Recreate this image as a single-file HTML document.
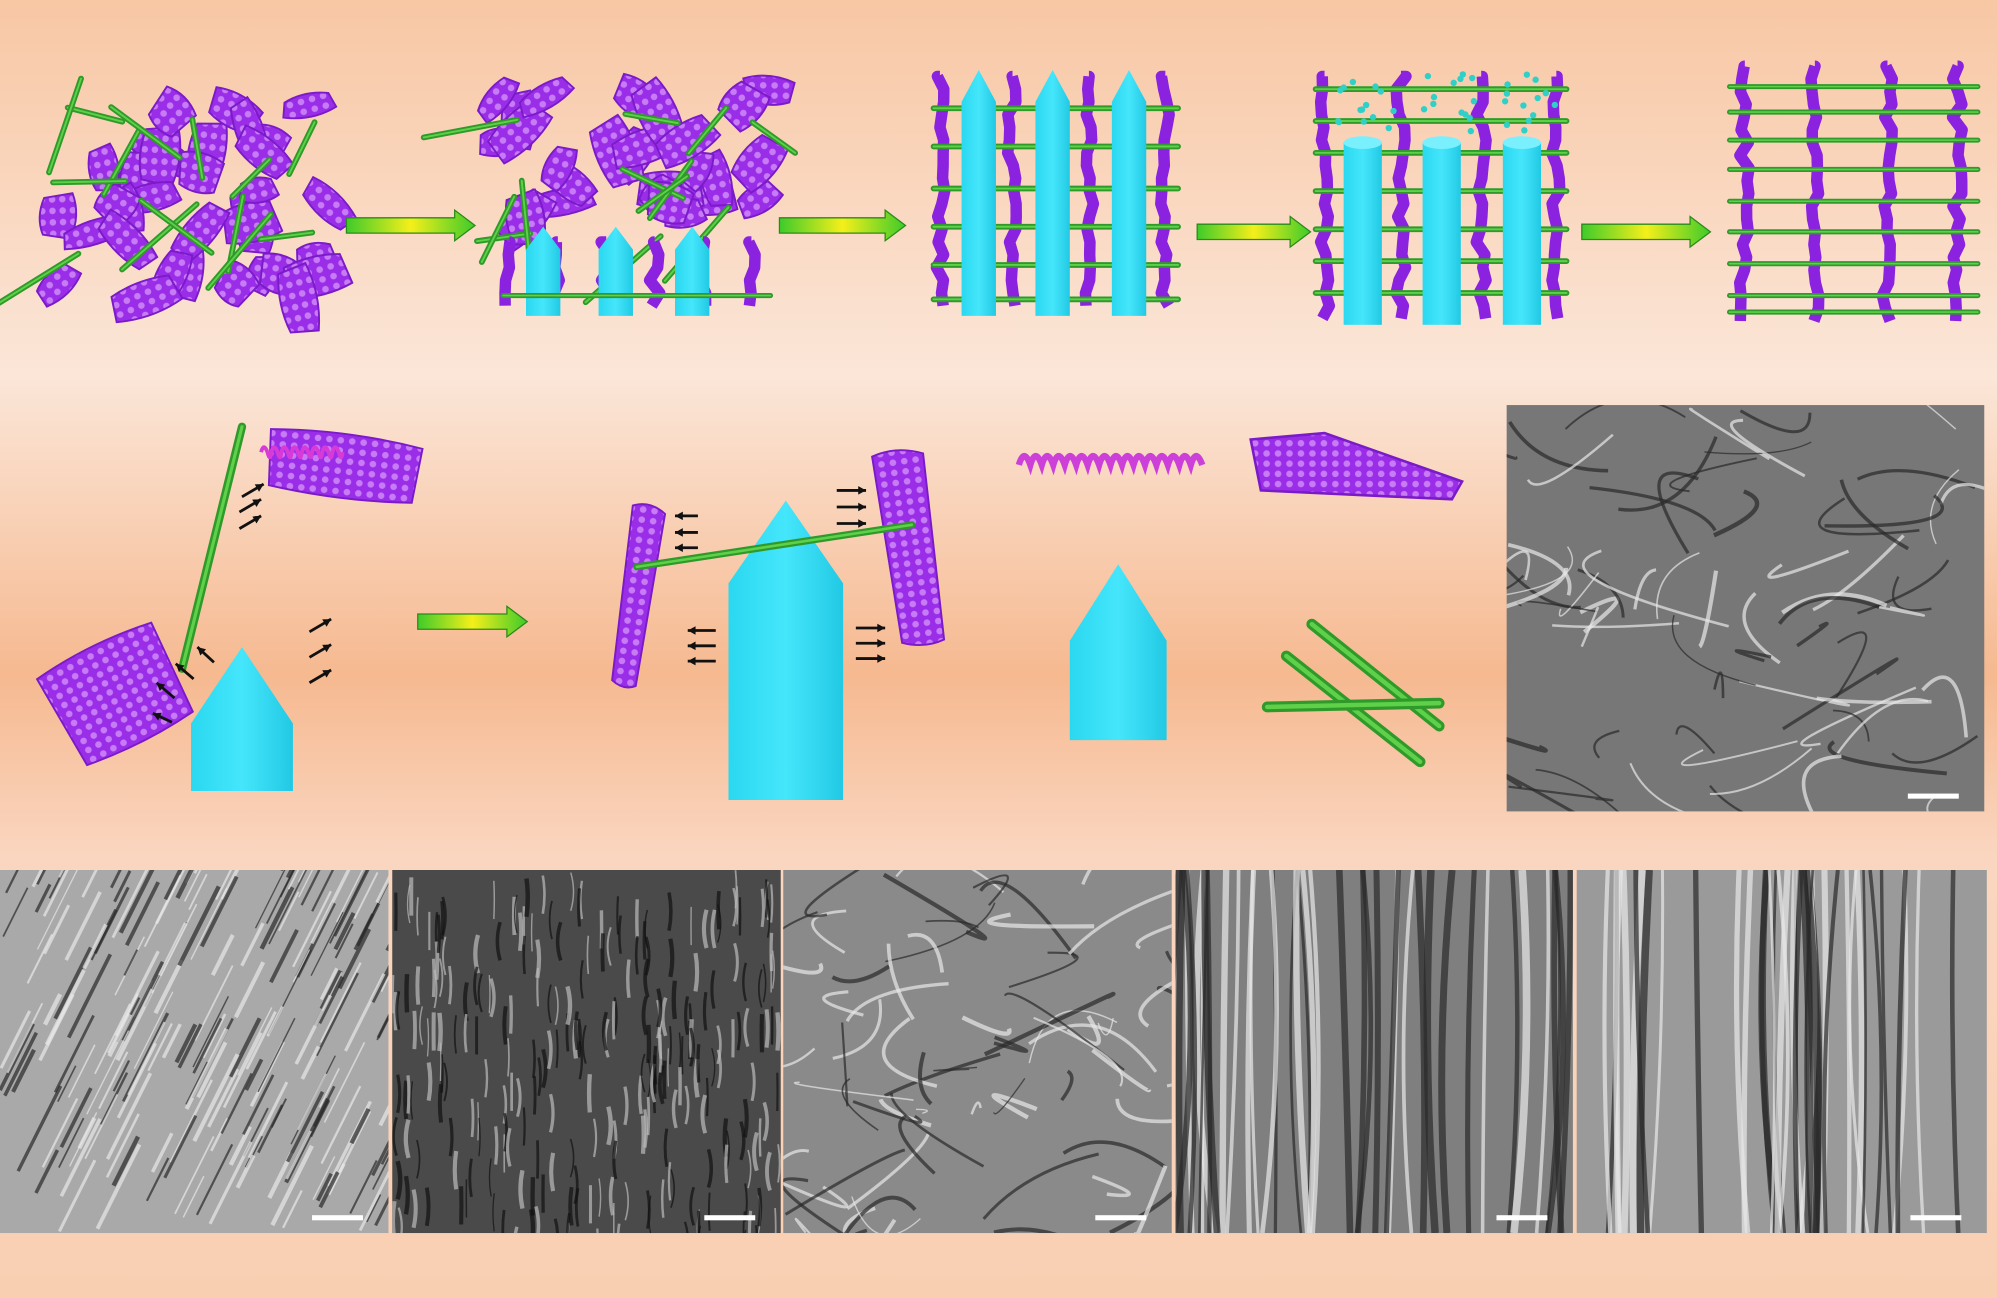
<!DOCTYPE html>
<html><head><meta charset="utf-8"><title>Schematic</title>
<style>
html,body{margin:0;padding:0;width:1997px;height:1298px;overflow:hidden;font-family:"Liberation Sans",sans-serif;}
svg{display:block}
</style></head>
<body>
<svg id="fig" width="1997" height="1298" viewBox="0 0 1568 1019" preserveAspectRatio="none" xmlns="http://www.w3.org/2000/svg">
<defs>
<linearGradient id="bg" x1="0" y1="0" x2="0" y2="1">
<stop offset="0" stop-color="#f8c7a4"/>
<stop offset="0.29" stop-color="#fbe6d8"/>
<stop offset="0.52" stop-color="#f6b990"/>
<stop offset="0.66" stop-color="#fad6c0"/>
<stop offset="1" stop-color="#f9cfb2"/>
</linearGradient>
<linearGradient id="arr" x1="0" y1="0" x2="1" y2="0">
<stop offset="0" stop-color="#3ecb2a"/><stop offset="0.5" stop-color="#f5ef1a"/><stop offset="1" stop-color="#3ecb2a"/>
</linearGradient>
<linearGradient id="cyl" x1="0" y1="0" x2="1" y2="0">
<stop offset="0" stop-color="#2ad8f0"/><stop offset="0.5" stop-color="#45e6fb"/><stop offset="1" stop-color="#22c9e4"/>
</linearGradient>
<pattern id="hex" width="9" height="8" patternUnits="userSpaceOnUse">
<rect width="9" height="8" fill="#9a2ee8"/>
<circle cx="4.5" cy="4" r="2.6" fill="#c77cf5"/>
</pattern>
</defs>
<rect width="1568" height="1019" fill="url(#bg)"/>
<g id="topRow"></g>
<g id="midRow"></g>
<g id="semRow"></g>
</svg>
<script>
const NS="http://www.w3.org/2000/svg";
let seed=7;function rnd(){seed=(seed*16807)%2147483647;return (seed-1)/2147483646;}
function el(parent,tag,attrs,name){const e=document.createElementNS(NS,tag);for(const k in attrs)e.setAttribute(k,attrs[k]);


parent.appendChild(e);return e;}
const gTop=document.getElementById('topRow'),gMid=document.getElementById('midRow'),gSem=document.getElementById('semRow');

function arrow(g,x1,x2,y,name){
  el(g,'path',{d:`M${x1} ${y-6}H${x2-16}V${y-12}L${x2} ${y}L${x2-16} ${y+12}V${y+6}H${x1}Z`,fill:'url(#arr)',stroke:'#2a8a1a','stroke-width':1},name);
}
function rod(g,x1,y1,x2,y2,w,name){
  el(g,'line',{x1,y1,x2,y2,stroke:'#2f9a2a','stroke-width':w+1.5,'stroke-linecap':'round'},name);
  el(g,'line',{x1,y1,x2,y2,stroke:'#5fd04a','stroke-width':w*0.5,'stroke-linecap':'round'},name+'-hl');
}
function sheet(g,cx,cy,w,h,a,name){
  el(g,'path',{d:`M${-w/2} ${-h/2} Q0 ${-h/2-6} ${w/2} ${-h/2+3} L${w/2-4} ${h/2} Q0 ${h/2+5} ${-w/2+3} ${h/2-2}Z`,fill:'url(#hex)',stroke:'#7a1ac8','stroke-width':1.5,transform:`translate(${cx} ${cy}) rotate(${a})`},name);
}
function cone(g,x,w,tip,shoulder,bottom,name){
  el(g,'path',{d:`M${x} ${shoulder}L${x+w/2} ${tip}L${x+w} ${shoulder}V${bottom}H${x}Z`,fill:'url(#cyl)'},name);
}
function vstrip(g,x,y1,y2,name){
  let d=`M${x} ${y1}`;for(let y=y1;y<=y2;y+=10)d+=`L${x+(rnd()-0.5)*8} ${y}`;
  el(g,'path',{d,stroke:'#8a22e0','stroke-width':9,fill:'none','stroke-linejoin':'round'},name);
}
for(let i=0;i<34;i++)sheet(gTop,45+rnd()*220,62+rnd()*175,30+rnd()*25,14+rnd()*14,rnd()*180,'graphene-sheet');
for(let i=0;i<14;i++){const x=45+rnd()*220,y=60+rnd()*180,a=rnd()*Math.PI,l=40+rnd()*40;rod(gTop,x,y,x+Math.cos(a)*l,y+Math.sin(a)*l,3,'nanotube');}
arrow(gTop,272,373,177,'process-arrow-1');
for(let i=0;i<28;i++)sheet(gTop,390+rnd()*215,62+rnd()*120,30+rnd()*25,14+rnd()*14,rnd()*180,'graphene-sheet');
for(let i=0;i<12;i++){const x=390+rnd()*210,y=60+rnd()*130,a=rnd()*Math.PI,l=40+rnd()*40;rod(gTop,x,y,x+Math.cos(a)*l,y+Math.sin(a)*l,3,'nanotube');}
for(let i=0;i<6;i++)vstrip(gTop,400+i*38,190,248,'aligned-sheet');
[413,470,530].forEach((x,i)=>cone(gTop,x,27,178,196,248,'ice-crystal-'+(i+1)));
rod(gTop,395,232,605,232,2.5,'nanotube');
arrow(gTop,612,711,177,'process-arrow-2');
[738,795,855,915].forEach(x=>vstrip(gTop,x,60,248,'aligned-sheet'));
[85,115,148,178,208,235].forEach(y=>rod(gTop,733,y,925,y,3,'bridging-nanotube'));
[755,813,873].forEach((x,i)=>cone(gTop,x,27,55,80,248,'ice-column-'+(i+1)));
arrow(gTop,940,1029,182,'process-arrow-3');
[1040,1100,1163,1222].forEach(x=>vstrip(gTop,x,60,255,'aligned-sheet'));
[70,95,120,150,180,205,230].forEach(y=>rod(gTop,1033,y,1230,y,3,'bridging-nanotube'));
[1055,1117,1180].forEach((x,i)=>{el(gTop,'rect',{x,y:112,width:30,height:143,fill:'url(#cyl)'},'melting-ice-'+(i+1));el(gTop,'ellipse',{cx:x+15,cy:112,rx:15,ry:5,fill:'#7af0ff'},'ice-top');});
for(let i=0;i<40;i++)el(gTop,'circle',{cx:1050+Math.floor(i/13.4)*63+rnd()*45,cy:58+rnd()*45,r:2.5,fill:'#2fd0c8'},'water-molecule');
arrow(gTop,1242,1343,182,'process-arrow-4');
[1370,1425,1482,1537].forEach(x=>vstrip(gTop,x,52,255,'aligned-sheet'));
[68,88,110,133,158,182,207,232,245].forEach(y=>rod(gTop,1358,y,1553,y,2.5,'bridging-nanotube'));

rod(gMid,190,335,143,525,5,'nanotube-rod');
sheet(gMid,270,366,120,46,6,'graphene-sheet-top');
let sp='M205 355';for(let i=0;i<8;i++)sp+=' q2 -8 5 0 q2 8 3 0';el(gMid,'path',{d:sp,stroke:'#d83ad8','stroke-width':3,fill:'none'},'polymer-spring');
sheet(gMid,92,545,100,80,-28,'graphene-sheet-bottom');
cone(gMid,150,80,508,568,621,'ice-crystal');
function sArrow(g,x1,y1,x2,y2){el(g,'line',{x1,y1,x2,y2,stroke:'#111','stroke-width':2.2},'force-arrow');const a=Math.atan2(y2-y1,x2-x1);
el(g,'path',{d:`M${x2} ${y2}L${x2-7*Math.cos(a-0.5)} ${y2-7*Math.sin(a-0.5)}L${x2-7*Math.cos(a+0.5)} ${y2-7*Math.sin(a+0.5)}Z`,fill:'#111'},'force-arrowhead');}
[[188,402,205,392],[188,415,205,405],[190,390,207,380],[243,496,260,486],[243,516,260,506],[243,536,260,526],[168,520,155,508],[152,533,138,521],[137,548,123,536],[135,567,120,560]].forEach(a=>sArrow(gMid,...a));
arrow(gMid,328,414,488,'process-arrow-5');
sheet(gMid,500,468,26,140,8,'graphene-sheet-left');
sheet(gMid,715,430,40,150,-8,'graphene-sheet-right');
cone(gMid,572,90,393,458,628,'ice-crystal-large');
rod(gMid,500,445,716,412,4,'nanotube-rod');
for(const[x1,y1,x2,y2]of[[548,405,530,405],[548,418,530,418],[548,430,530,430],[562,495,540,495],[562,507,540,507],[562,519,540,519],[657,385,680,385],[657,398,680,398],[657,411,680,411],[672,493,695,493],[672,505,695,505],[672,517,695,517]])sArrow(gMid,x1,y1,x2,y2);
let sp2='M800 365';for(let i=0;i<16;i++)sp2+=' q4 -14 9 0';el(gMid,'path',{d:sp2,stroke:'#cc3fd8','stroke-width':5,fill:'none'},'legend-polymer');
el(gMid,'path',{d:'M982 345L1040 340L1148 378L1140 392L990 385Z',fill:'url(#hex)',stroke:'#7a1ac8','stroke-width':2},'legend-graphene');
cone(gMid,840,76,443,503,581,'legend-ice-crystal');
rod(gMid,1030,490,1130,570,7,'legend-nanotube-1');rod(gMid,1010,515,1115,598,7,'legend-nanotube-2');rod(gMid,995,555,1130,552,7,'legend-nanotube-3');

function semPanel(x,y,w,h,base,kind,name){
  const g=el(gSem,'g',{},name);
  el(g,'rect',{x,y,width:w,height:h,fill:base},name+'-bg');
  const cp=el(g,'clipPath',{id:name+'-clip'},name+'-clip');el(cp,'rect',{x,y,width:w,height:h},'clip-rect');
  const t=el(g,'g',{'clip-path':`url(#${name}-clip)`},name+'-texture');
  const n=kind==='dense'?260:kind==='diag'?200:kind==='vert'?40:70;
  for(let i=0;i<n;i++){
    const px=x+rnd()*w,py=y+rnd()*h;let d;
    if(kind==='diag'){const l=20+rnd()*50;d=`M${px} ${py}l${l*0.5} ${-l}`;}
    else if(kind==='dense'){d=`M${px} ${py}q${(rnd()-0.5)*10} 15 0 30`;}
    else if(kind==='vert'){d=`M${px} ${y}q${(rnd()-0.5)*30} ${h/2} ${(rnd()-0.5)*20} ${h}`;}
    else{d=`M${px} ${py}q${(rnd()-0.5)*120} ${(rnd()-0.5)*80} ${(rnd()-0.5)*200} ${(rnd()-0.5)*120}`;}
    const c=rnd()<0.5?'#e8e8e8':'#2a2a2a';
    el(t,'path',{d,stroke:kind==='dense'?(rnd()<0.5?'#bbb':'#111'):c,'stroke-width':kind==='vert'?2+rnd()*4:1+rnd()*2.5,fill:'none',opacity:0.7},'sem-feature');
  }
  el(g,'rect',{x:x+w-60,y:y+h-14,width:40,height:4,fill:'#fff'},name+'-scale-bar');
}
semPanel(1183,318,375,319,'#777','web','sem-panel-main');
semPanel(0,683,305,285,'#a9a9a9','diag','sem-panel-1');
semPanel(308,683,305,285,'#4a4a4a','dense','sem-panel-2');
semPanel(615,683,305,285,'#8a8a8a','web','sem-panel-3');
semPanel(923,683,312,285,'#7f7f7f','vert','sem-panel-4');
semPanel(1238,683,322,285,'#9a9a9a','vert','sem-panel-5');
</script>
</body></html>
